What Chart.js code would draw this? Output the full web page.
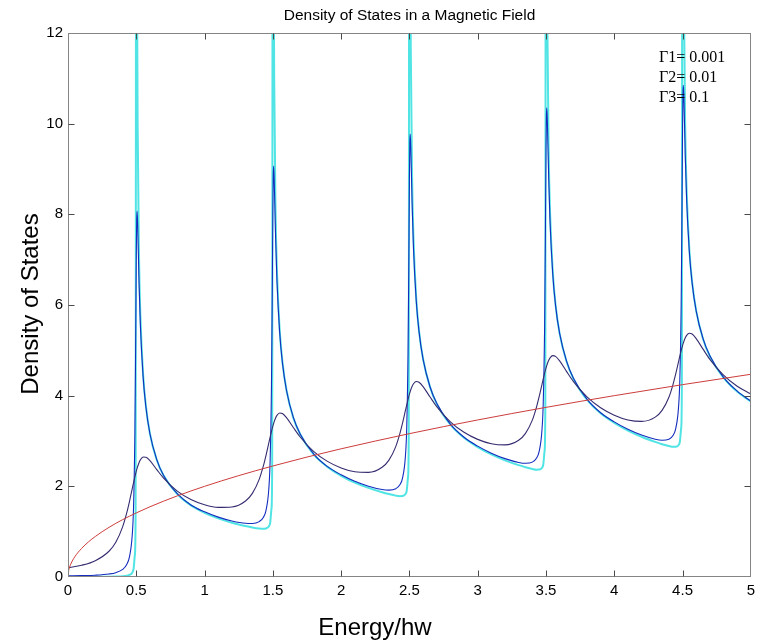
<!DOCTYPE html>
<html>
<head>
<meta charset="utf-8">
<script src="https://cdn.jsdelivr.net/npm/chart.js@4.4.1/dist/chart.umd.min.js"></script>
<style>
  html, body { margin: 0; padding: 0; background: #ffffff; }
  canvas { display: block; }
</style>
</head>
<body>
<canvas id="dos" width="760" height="643"></canvas>
<script>
// ---- data ----
const energy = [
  0, 0.1, 0.2, 0.3, 0.35, 0.4, 0.43, 0.45, 0.47, 0.48, 0.49, 0.495, 0.5, 0.503, 0.506, 0.51, 0.52, 0.53, 0.55, 0.57, 0.6, 0.65, 0.7, 0.8, 0.9,
  1, 1.1, 1.2, 1.3, 1.35, 1.4, 1.43, 1.45, 1.47, 1.48, 1.49, 1.495, 1.5, 1.503, 1.506, 1.51, 1.52, 1.53, 1.55, 1.57, 1.6, 1.65, 1.7, 1.8, 1.9,
  2, 2.1, 2.2, 2.3, 2.35, 2.4, 2.43, 2.45, 2.47, 2.48, 2.49, 2.495, 2.5, 2.503, 2.506, 2.51, 2.52, 2.53, 2.55, 2.57, 2.6, 2.65, 2.7, 2.8, 2.9,
  3, 3.1, 3.2, 3.3, 3.35, 3.4, 3.43, 3.45, 3.47, 3.48, 3.49, 3.495, 3.5, 3.503, 3.506, 3.51, 3.52, 3.53, 3.55, 3.57, 3.6, 3.65, 3.7, 3.8, 3.9,
  4, 4.1, 4.2, 4.3, 4.35, 4.4, 4.43, 4.45, 4.47, 4.48, 4.49, 4.495, 4.5, 4.503, 4.506, 4.51, 4.52, 4.53, 4.55, 4.57, 4.6, 4.65, 4.7, 4.8, 4.9,
  5
];
// Γ1 = 0.001 (cyan)
const gamma1 = [
  0.001, 0.002, 0.003, 0.006, 0.009, 0.016, 0.027, 0.045, 0.096, 0.177, 0.50, 1.38, 22.36, 17.55, 12.78, 9.96, 7.07, 5.77, 4.47, 3.78, 3.16, 2.58, 2.24, 1.83, 1.58,
  1.416, 1.293, 1.198, 1.124, 1.093, 1.070, 1.064, 1.071, 1.112, 1.187, 1.503, 2.383, 23.36, 18.55, 13.78, 10.96, 8.06, 6.76, 5.45, 4.75, 4.12, 3.51, 3.15, 2.70, 2.43,
  2.232, 2.084, 1.965, 1.869, 1.829, 1.795, 1.784, 1.787, 1.824, 1.898, 2.211, 3.091, 24.07, 19.26, 14.48, 11.66, 8.76, 7.46, 6.14, 5.44, 4.81, 4.20, 3.82, 3.36, 3.07,
  2.865, 2.704, 2.574, 2.467, 2.421, 2.383, 2.368, 2.369, 2.404, 2.477, 2.790, 3.668, 24.64, 19.83, 15.06, 12.24, 9.34, 8.03, 6.72, 6.01, 5.37, 4.76, 4.38, 3.91, 3.61,
  3.399, 3.231, 3.094, 2.980, 2.930, 2.889, 2.872, 2.872, 2.906, 2.978, 3.290, 4.169, 25.14, 20.33, 15.56, 12.74, 9.84, 8.53, 7.21, 6.51, 5.87, 5.25, 4.87, 4.40, 4.09,
  3.869
];
// Γ2 = 0.01 (blue)
const gamma2 = [
  0.024, 0.030, 0.040, 0.066, 0.096, 0.167, 0.277, 0.446, 0.910, 1.546, 3.23, 4.98, 7.08, 7.86, 8.07, 7.78, 6.52, 5.56, 4.42, 3.76, 3.16, 2.59, 2.24, 1.84, 1.59,
  1.438, 1.321, 1.236, 1.184, 1.180, 1.221, 1.314, 1.472, 1.925, 2.556, 4.235, 5.983, 8.08, 8.861, 9.065, 8.775, 7.51, 6.545, 5.396, 4.728, 4.114, 3.521, 3.157, 2.712, 2.436,
  2.255, 2.111, 2.003, 1.929, 1.916, 1.947, 2.033, 2.188, 2.638, 3.267, 4.944, 6.691, 8.787, 9.567, 9.771, 9.480, 8.214, 7.247, 6.094, 5.423, 4.804, 4.203, 3.831, 3.372, 3.082,
  2.887, 2.732, 2.611, 2.527, 2.508, 2.534, 2.618, 2.770, 3.218, 3.846, 5.522, 7.268, 9.365, 10.144, 10.348, 10.057, 8.789, 7.822, 6.667, 5.993, 5.372, 4.766, 4.390, 3.922, 3.624,
  3.422, 3.259, 3.131, 3.040, 3.018, 3.040, 3.122, 3.274, 3.720, 4.348, 6.023, 7.769, 9.865, 10.644, 10.847, 10.556, 9.288, 8.320, 7.164, 6.489, 5.866, 5.257, 4.878, 4.404, 4.101,
  3.879
];
// Γ3 = 0.1 (dark navy)
const gamma3 = [
  0.202, 0.259, 0.360, 0.568, 0.768, 1.106, 1.413, 1.665, 1.943, 2.081, 2.214, 2.276, 2.334, 2.367, 2.398, 2.438, 2.522, 2.584, 2.647, 2.643, 2.565, 2.369, 2.180, 1.894, 1.709,
  1.593, 1.535, 1.544, 1.677, 1.845, 2.153, 2.444, 2.685, 2.952, 3.086, 3.213, 3.272, 3.328, 3.360, 3.390, 3.427, 3.506, 3.564, 3.617, 3.605, 3.514, 3.297, 3.088, 2.767, 2.550,
  2.406, 2.322, 2.308, 2.420, 2.578, 2.876, 3.161, 3.399, 3.662, 3.794, 3.919, 3.978, 4.033, 4.064, 4.093, 4.130, 4.207, 4.263, 4.313, 4.297, 4.201, 3.976, 3.760, 3.424, 3.193,
  3.036, 2.940, 2.914, 3.015, 3.168, 3.461, 3.743, 3.978, 4.240, 4.371, 4.495, 4.553, 4.608, 4.638, 4.667, 4.704, 4.780, 4.835, 4.883, 4.866, 4.767, 4.537, 4.316, 3.972, 3.734,
  3.569, 3.465, 3.432, 3.526, 3.675, 3.965, 4.245, 4.480, 4.740, 4.870, 4.994, 5.052, 5.106, 5.136, 5.165, 5.201, 5.277, 5.331, 5.378, 5.359, 5.259, 5.026, 4.802, 4.452, 4.208,
  4.037
];
// zero-field density of states (red)
const freeEnergy = [0, 0.005, 0.01, 0.02, 0.05, 0.1, 0.15, 0.2, 0.3, 0.4, 0.5, 0.6, 0.8, 1, 1.25, 1.5, 1.75, 2, 2.5, 3, 3.5, 4, 4.5, 5];
const freeDos    = [0, 0.141, 0.2, 0.283, 0.447, 0.632, 0.775, 0.894, 1.095, 1.265, 1.414, 1.549, 1.789, 2, 2.236, 2.449, 2.646, 2.828, 3.162, 3.464, 3.742, 4, 4.243, 4.472];

const xTickValues = [0, 0.5, 1, 1.5, 2, 2.5, 3, 3.5, 4, 4.5, 5];
const xTickLabels = ['0', '0.5', '1', '1.5', '2', '2.5', '3', '3.5', '4', '4.5', '5'];
const yTickValues = [0, 2, 4, 6, 8, 10, 12];
const yTickLabels = ['0', '2', '4', '6', '8', '10', '12'];
const legendLabels = ['\u03931= 0.001', '\u03932= 0.01', '\u03933= 0.1'];
const chartTitle = 'Density of States in a Magnetic Field';
const xAxisTitle = 'Energy/hw';
const yAxisTitle = 'Density of States';

// ---- build datasets ----
const toPoints = (xs, ys) => xs.map((x, i) => ({ x: x, y: ys[i] }));

const frame = {
  id: 'matlabFrame',
  afterDatasetsDraw(chart) {
    const ctx = chart.ctx;
    const xs = chart.scales.x, ys = chart.scales.y;
    const L = 68.5, R = 750.5, T = 33.5, B = 576.5;
    ctx.save();
    ctx.strokeStyle = '#858585';
    ctx.lineWidth = 1;
    ctx.strokeRect(L, T, R - L, B - T);
    ctx.strokeStyle = '#4a4a4a';
    ctx.beginPath();
    xTickValues.forEach(v => {
      const px = Math.round(xs.getPixelForValue(v)) + 0.5;
      if (px <= L + 1 || px >= R - 1) return;
      ctx.moveTo(px, B); ctx.lineTo(px, B - 6);
      ctx.moveTo(px, T); ctx.lineTo(px, T + 6);
    });
    yTickValues.forEach(v => {
      const py = Math.round(ys.getPixelForValue(v)) + 0.5;
      if (py <= T + 1 || py >= B - 1) return;
      ctx.moveTo(L, py); ctx.lineTo(L + 6, py);
      ctx.moveTo(R, py); ctx.lineTo(R - 6, py);
    });
    ctx.stroke();
    ctx.restore();
  },
  afterDraw(chart) {
    const ctx = chart.ctx;
    ctx.save();
    ctx.fillStyle = '#000';
    // title
    ctx.font = '15.5px "Liberation Sans", Arial, sans-serif';
    ctx.textAlign = 'center';
    ctx.textBaseline = 'alphabetic';
    ctx.fillText(chartTitle, 409.5, 20);
    // x axis title
    ctx.font = '24px "Liberation Sans", Arial, sans-serif';
    ctx.fillText(xAxisTitle, 375, 635);
    // y axis title
    ctx.save();
    ctx.translate(38, 304);
    ctx.rotate(-Math.PI / 2);
    ctx.fillText(yAxisTitle, 0, 0);
    ctx.restore();
    // legend text
    ctx.font = '16px "Liberation Serif", "Times New Roman", serif';
    ctx.textAlign = 'left';
    ctx.textBaseline = 'middle';
    legendLabels.forEach((t, i) => ctx.fillText(t, 659, 58 + i * 20));
    ctx.restore();
  }
};

new Chart(document.getElementById('dos').getContext('2d'), {
  type: 'line',
  data: {
    datasets: [
      { label: legendLabels[0], data: toPoints(energy, gamma1), borderColor: 'rgb(80,228,228)', borderWidth: 2, order: 4 },
      { label: legendLabels[1], data: toPoints(energy, gamma2), borderColor: 'rgb(20,45,190)', borderWidth: 1.1, order: 3 },
      { label: legendLabels[2], data: toPoints(energy, gamma3), borderColor: 'rgb(52,44,112)', borderWidth: 1.1, order: 2 },
      { label: 'free', data: toPoints(freeEnergy, freeDos), borderColor: 'rgb(205,60,60)', borderWidth: 1, order: 1 }
    ]
  },
  options: {
    responsive: false,
    animation: false,
    devicePixelRatio: 1,
    layout: { padding: { top: 33, right: 9, left: 0, bottom: 0 } },
    elements: {
      point: { radius: 0, hoverRadius: 0 },
      line: { cubicInterpolationMode: 'monotone', fill: false }
    },
    plugins: {
      legend: { display: false },
      tooltip: { enabled: false },
      title: { display: false }
    },
    scales: {
      x: {
        type: 'linear', min: 0, max: 5,
        afterBuildTicks: s => { s.ticks = xTickValues.map(v => ({ value: v })); },
        afterFit: s => { s.height = 66; },
        grid: { display: false, drawTicks: false },
        border: { display: false },
        ticks: {
          padding: 5, color: '#000', maxRotation: 0, autoSkip: false,
          font: { family: '"Liberation Sans", Arial, sans-serif', size: 15 },
          callback: (v, i) => xTickLabels[i]
        }
      },
      y: {
        type: 'linear', min: 0, max: 12,
        afterBuildTicks: s => { s.ticks = yTickValues.map(v => ({ value: v })); },
        afterFit: s => { s.width = 68; },
        grid: { display: false, drawTicks: false },
        border: { display: false },
        ticks: {
          padding: 5, color: '#000', autoSkip: false,
          font: { family: '"Liberation Sans", Arial, sans-serif', size: 15 },
          callback: (v, i) => yTickLabels[i]
        }
      }
    }
  },
  plugins: [frame]
});
</script>
</body>
</html>
